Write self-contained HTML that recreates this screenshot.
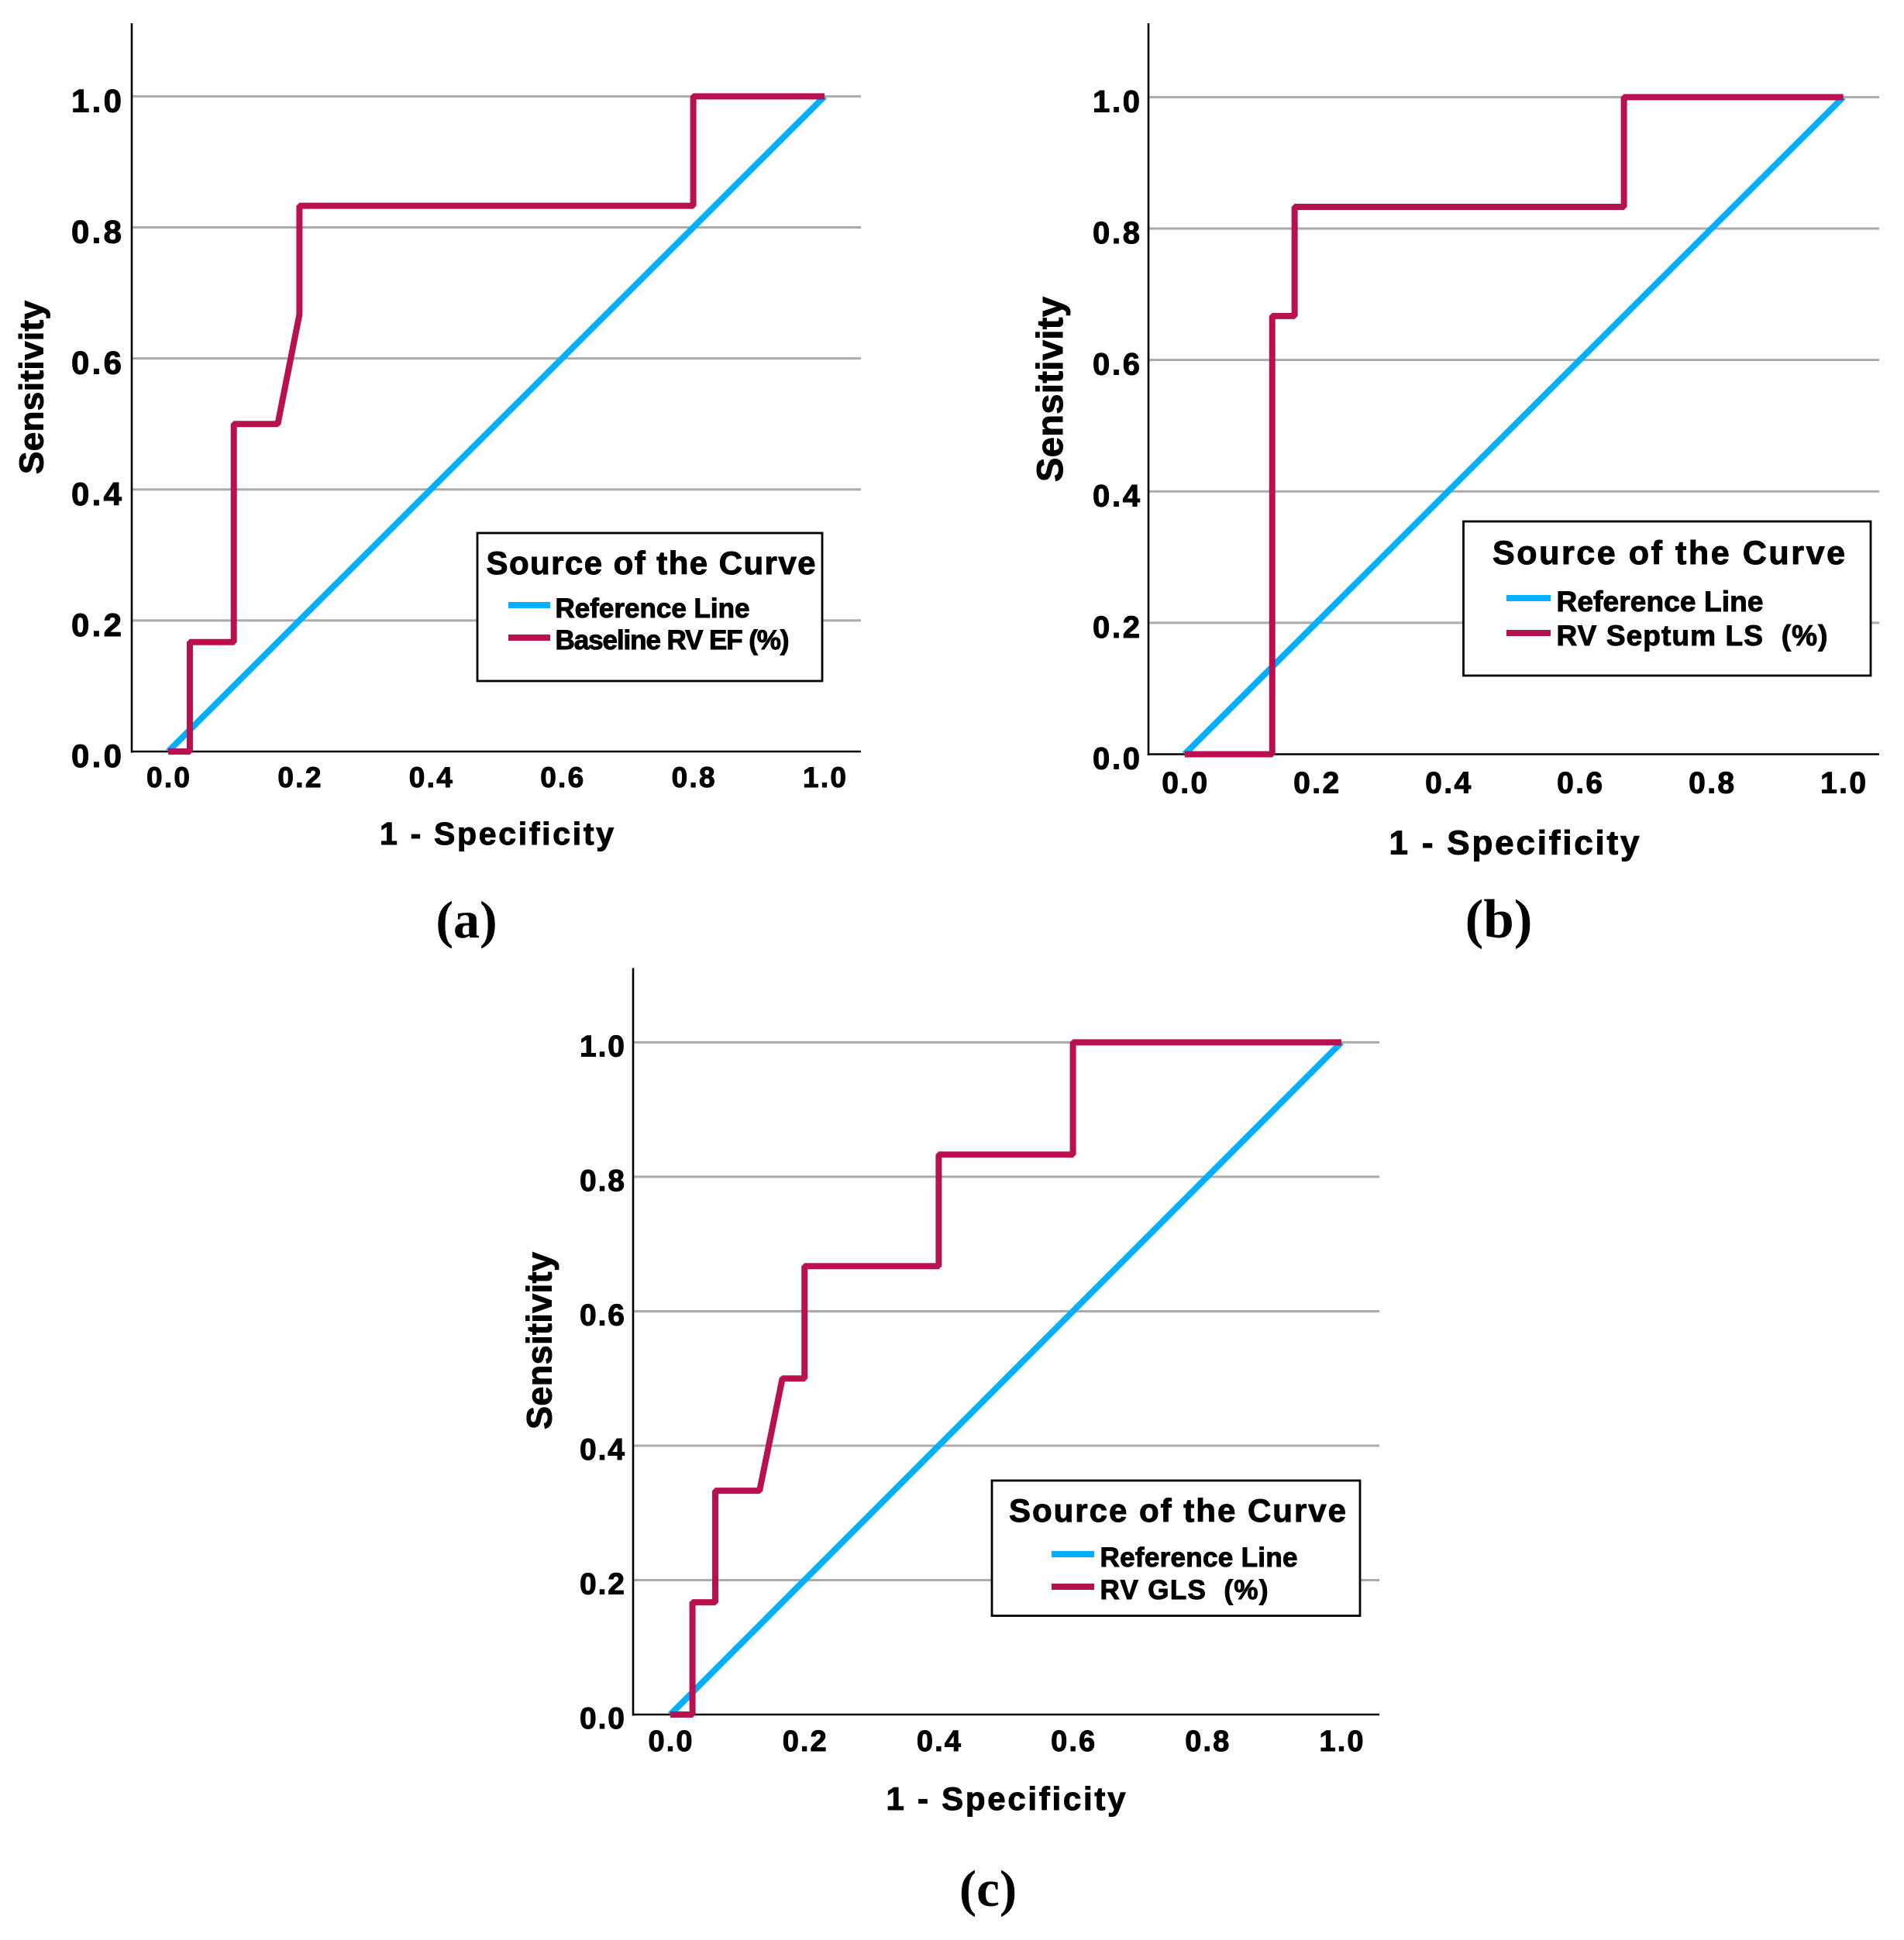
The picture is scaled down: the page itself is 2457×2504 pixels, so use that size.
<!DOCTYPE html>
<html lang="en">
<head>
<meta charset="utf-8">
<title>ROC curves</title>
<style>
html,body{margin:0;padding:0;background:#fff;}
svg{display:block;}
text{font-family:"Liberation Sans",Arial,sans-serif;font-weight:700;fill:#000;stroke:#000;stroke-width:1px;}
.panel{font-family:"Liberation Serif",serif;stroke-width:0;}
</style>
</head>
<body>
<svg id="figure" xmlns="http://www.w3.org/2000/svg" width="2457" height="2504" viewBox="0 0 2457 2504">
  <rect width="2457" height="2504" fill="#fff"/>
  <g id="chart-a"></g>
  <g id="chart-b"></g>
  <g id="chart-c"></g>
</svg>
<script>
var xTickLabels = ["0.0", "0.2", "0.4", "0.6", "0.8", "1.0"];
var yTickLabels = ["0.0", "0.2", "0.4", "0.6", "0.8", "1.0"];
var tickValues = [0, 0.2, 0.4, 0.6, 0.8, 1];

var referenceFpr = [0, 1];
var referenceTpr = [0, 1];

var fprA = [0, 0.033, 0.033, 0.1, 0.1, 0.167, 0.2, 0.2, 0.8, 0.8, 1];
var tprA = [0, 0, 0.167, 0.167, 0.5, 0.5, 0.667, 0.833, 0.833, 1, 1];

var fprB = [0, 0.133, 0.133, 0.167, 0.167, 0.667, 0.667, 1];
var tprB = [0, 0, 0.667, 0.667, 0.833, 0.833, 1, 1];

var fprC = [0, 0.033, 0.033, 0.067, 0.067, 0.133, 0.167, 0.2, 0.2, 0.4, 0.4, 0.6, 0.6, 1];
var tprC = [0, 0, 0.167, 0.167, 0.333, 0.333, 0.5, 0.5, 0.667, 0.667, 0.833, 0.833, 1, 1];

var BLUE = "#00b0ff";
var RED = "#b9114f";
var GRID = "#ababab";
var NS = "http://www.w3.org/2000/svg";

var layoutA = {
  id: "chart-a", fpr: fprA, tpr: tprA, seriesName: "Baseline RV EF (%)",
  left: 170, right: 1111, top: 30, bottom: 970, x0: 217, x1: 1064, y0: 970, y1: 124.4,
  yLabelRight: 157, yLabelWidth: 65, yLabelSize: 42, yLabelDy: 20,
  xLabelBase: 1016, xLabelWidth: 56, xLabelSize: 37,
  xTitle: { x: 641, y: 1090, w: 302, size: 41 },
  yTitle: { x: 55.5, y: 500, w: 224, size: 44 },
  legend: { l: 616, t: 688, r: 1061, b: 879, tx: 627.5, tb: 741, tw: 425, ts: 42,
            lx0: 656, lx1: 710, ly0: 781, ly1: 823, ex: 716.5, e0b: 797, e0w: 251, e1b: 838, e1w: 302, es: 35 },
  panel: { text: "(a)", x: 602, y: 1210, size: 68 }
};
var layoutB = {
  id: "chart-b", fpr: fprB, tpr: tprB, seriesName: "RV Septum LS  (%)",
  left: 1482, right: 2425, top: 30, bottom: 973.5, x0: 1528.7, x1: 2378.6, y0: 973.5, y1: 125.4,
  yLabelRight: 1471, yLabelWidth: 61, yLabelSize: 40, yLabelDy: 19,
  xLabelBase: 1023.5, xLabelWidth: 59, xLabelSize: 39,
  xTitle: { x: 1954, y: 1102.5, w: 323, size: 44 },
  yTitle: { x: 1371, y: 502.5, w: 239, size: 47 },
  legend: { l: 1888.5, t: 673, r: 2414, b: 872, tx: 1926, tb: 728, tw: 455, ts: 43,
            lx0: 1944, lx1: 2001, ly0: 772, ly1: 817, ex: 2008.5, e0b: 789, e0w: 267, e1b: 833, e1w: 350, es: 37 },
  panel: { text: "(b)", x: 1934, y: 1210, size: 71 }
};
var layoutC = {
  id: "chart-c", fpr: fprC, tpr: tprC, seriesName: "RV GLS  (%)",
  left: 817, right: 1780, top: 1249.5, bottom: 2213, x0: 865, x1: 1731, y0: 2213, y1: 1345.4,
  yLabelRight: 806, yLabelWidth: 58, yLabelSize: 39, yLabelDy: 18,
  xLabelBase: 2260, xLabelWidth: 57, xLabelSize: 38,
  xTitle: { x: 1298, y: 2336, w: 309, size: 42 },
  yTitle: { x: 711.5, y: 1730.5, w: 229, size: 45 },
  legend: { l: 1280, t: 1911, r: 1755, b: 2085.5, tx: 1302, tb: 1964, tw: 435, ts: 42,
            lx0: 1357, lx1: 1412, ly0: 2006, ly1: 2048, ex: 1419.5, e0b: 2022, e0w: 255, e1b: 2064, e1w: 217, es: 35 },
  panel: { text: "(c)", x: 1275, y: 2460, size: 67 }
};

function make(tag, attrs, parent, content) {
  var el = document.createElementNS(NS, tag);
  for (var k in attrs) el.setAttribute(k, attrs[k]);
  if (content !== undefined) el.textContent = content;
  parent.appendChild(el);
  return el;
}

function drawChart(c) {
  var root = document.getElementById(c.id);
  var sx = function (v) { return c.x0 + (c.x1 - c.x0) * v; };
  var sy = function (v) { return c.y0 + (c.y1 - c.y0) * v; };
  var el;

  tickValues.forEach(function (v, i) {
    if (v > 0) {
      el = make("line", { x1: c.left, x2: c.right, y1: sy(v), y2: sy(v), stroke: GRID, "stroke-width": 3 }, root);
      
      
    }
    el = make("text", { x: c.yLabelRight, y: sy(v) + c.yLabelDy, "text-anchor": "end", "font-size": c.yLabelSize,
      textLength: c.yLabelWidth }, root, yTickLabels[i]);
    
    
    el = make("text", { x: sx(v), y: c.xLabelBase, "text-anchor": "middle", "font-size": c.xLabelSize,
      textLength: c.xLabelWidth }, root, xTickLabels[i]);
    
    
  });

  el = make("line", { x1: c.left, x2: c.left, y1: c.top, y2: c.bottom + 1.5, stroke: "#000", "stroke-width": 2.6 }, root);
  
  
  el = make("line", { x1: c.left, x2: c.right, y1: c.bottom, y2: c.bottom, stroke: "#000", "stroke-width": 2.6 }, root);
  
  

  var refPts = referenceFpr.map(function (v, i) { return sx(v) + "," + sy(referenceTpr[i]); }).join(" ");
  el = make("polyline", { points: refPts, fill: "none", stroke: BLUE, "stroke-width": 8 }, root);
  
  

  var rocPts = c.fpr.map(function (v, i) { return sx(v) + "," + sy(c.tpr[i]); }).join(" ");
  el = make("polyline", { points: rocPts, fill: "none", stroke: RED, "stroke-width": 8, "stroke-linejoin": "bevel" }, root);
  
  

  var L = c.legend;
  var g = make("g", {}, root);
  
  
  el = make("rect", { x: L.l, y: L.t, width: L.r - L.l, height: L.b - L.t, fill: "#fff", stroke: "#000", "stroke-width": 2.8 }, g);
  
  
  el = make("text", { x: L.tx, y: L.tb, "font-size": L.ts, textLength: L.tw }, g, "Source of the Curve");
  
  
  el = make("line", { x1: L.lx0, x2: L.lx1, y1: L.ly0, y2: L.ly0, stroke: BLUE, "stroke-width": 8 }, g);
  
  
  el = make("line", { x1: L.lx0, x2: L.lx1, y1: L.ly1, y2: L.ly1, stroke: RED, "stroke-width": 8 }, g);
  
  
  el = make("text", { x: L.ex, y: L.e0b, "font-size": L.es, textLength: L.e0w }, g, "Reference Line");
  
  
  el = make("text", { x: L.ex, y: L.e1b, "font-size": L.es, textLength: L.e1w, "xml:space": "preserve", style: "white-space:pre" }, g, c.seriesName);
  
  

  el = make("text", { x: c.xTitle.x, y: c.xTitle.y, "text-anchor": "middle", "font-size": c.xTitle.size, textLength: c.xTitle.w }, root, "1 - Specificity");
  
  
  el = make("text", { x: c.yTitle.x, y: c.yTitle.y, "text-anchor": "middle", "font-size": c.yTitle.size, textLength: c.yTitle.w,
    transform: "rotate(-90 " + c.yTitle.x + " " + c.yTitle.y + ")" }, root, "Sensitivity");
  
  
  el = make("text", { "class": "panel", x: c.panel.x, y: c.panel.y, "text-anchor": "middle", "font-size": c.panel.size }, root, c.panel.text);
  
  
}

drawChart(layoutA);
drawChart(layoutB);
drawChart(layoutC);
</script>
</body>
</html>
